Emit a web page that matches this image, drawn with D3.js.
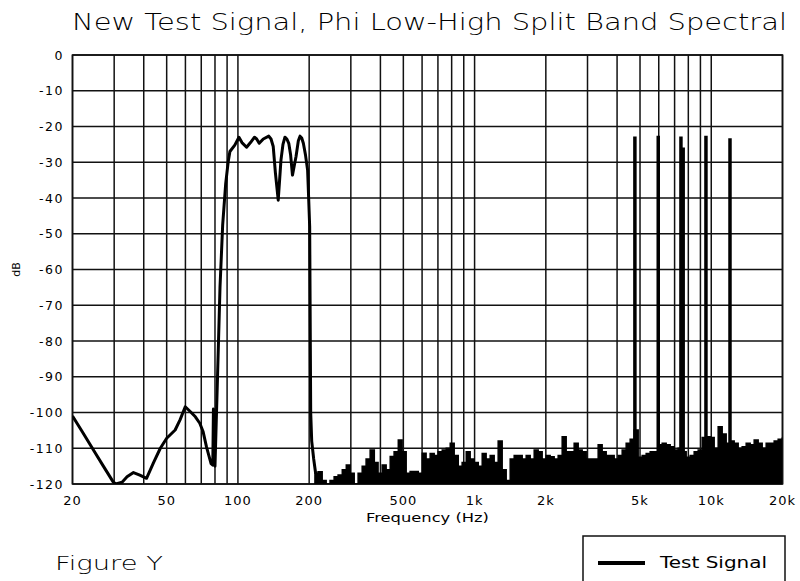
<!DOCTYPE html>
<html>
<head>
<meta charset="utf-8">
<script src="https://cdn.jsdelivr.net/npm/d3@7"></script>
<style>
  html, body { margin: 0; padding: 0; background: #fff; }
  svg { display: block; }
  text { font-family: "DejaVu Sans", "Liberation Sans", sans-serif; fill: #000; }
</style>
</head>
<body>
<svg id="chart" width="800" height="581"></svg>
<script>
// ---------------- DATA ----------------
const titleText = "New Test Signal, Phi Low-High Split Band Spectral";
const xLabel = "Frequency (Hz)";
const yLabel = "dB";
const figureLabel = "Figure Y";
const seriesName = "Test Signal";

const xTickValues = [20, 50, 100, 200, 500, 1000, 2000, 5000, 10000, 20000];
const xTickLabels = ["20", "50", "100", "200", "500", "1k", "2k", "5k", "10k", "20k"];
const xGridValues = [20, 30, 40, 50, 60, 70, 80, 90, 100, 200, 300, 400, 500, 600, 700, 800, 900,
                     1000, 2000, 3000, 4000, 5000, 6000, 7000, 8000, 9000, 10000, 20000];
const yTickValues = [0, -10, -20, -30, -40, -50, -60, -70, -80, -90, -100, -110, -120];

// low-frequency band (traced line)
const lowFreq = [20, 22, 25, 27, 29.7, 30.5, 32.4, 34, 36.2, 38.5, 41.1, 44, 47, 50, 54.3, 57, 59.9, 63,
  66.1, 69, 71.3, 73.7, 77, 78.3, 78.8, 79.3, 80, 82, 84, 86.2, 88.8, 91, 92.5, 97, 101, 104, 108.8,
  113, 117.5, 120, 123, 128, 135, 138, 141, 144, 148, 150, 152, 155, 158, 161, 164, 167, 170, 173,
  176, 180, 183, 186, 189, 193, 197, 199, 201, 203, 205, 209, 213];
const lowDb = [-101, -105.4, -111.4, -115, -119.4, -120, -119.5, -118, -116.8, -117.5, -118.4, -114, -110, -107.2, -104.9, -102, -98.4, -99.8,
  -101.2, -103, -105.4, -109.7, -114.3, -114.7, -99, -114, -115, -90, -65, -47.6, -35.9, -29.8, -27, -25.2, -23, -24.5, -25.8,
  -24.5, -23, -23.5, -24.7, -23.5, -22.7, -23.5, -25.6, -33, -40.6, -35, -29.4, -25, -23, -23.5, -24.7, -28, -33.6, -31,
  -28.4, -24, -22.7, -23.2, -24.7, -28, -32.2, -40, -48, -100, -108, -113, -117];

// noise floor envelope (step values)
const noiseFreq = [210, 218, 227, 236, 245, 255, 265, 276, 287, 298,
  310, 322, 335, 348, 362, 377, 391, 407, 423, 440,
  457, 476, 494, 514, 534, 556, 578, 601, 624, 649,
  675, 702, 730, 759, 789, 820, 853, 886, 922, 958,
  996, 1036, 1077, 1119, 1164, 1210, 1258, 1308, 1360, 1414,
  1470, 1528, 1589, 1652, 1718, 1786, 1857, 1930, 2007, 2086,
  2169, 2255, 2345, 2438, 2535, 2635, 2740, 2848, 2962, 3079,
  3201, 3328, 3460, 3598, 3740, 3889, 4043, 4204, 4370, 4544,
  4724, 4912, 5107, 5309, 5520, 5739, 5967, 6204, 6450, 6706,
  6972, 7248, 7536, 7835, 8146, 8469, 8805, 9155, 9518, 9896,
  10289, 10697, 11121, 11563, 12022, 12499, 12995, 13510, 14047, 14604,
  15184, 15786, 16413, 17064, 17741, 18445, 19177, 19938];
const noiseDb = [-117, -116.6, -119, -120, -119, -118, -117.5, -116, -114.7, -117,
  -120, -117, -115, -113, -110.5, -114, -117, -114.7, -116, -112.3,
  -111, -107.7, -111, -117, -116.5, -116.5, -117, -111.4, -113, -111.5,
  -112, -111, -110.5, -110, -108.6, -112, -115, -114, -111, -113,
  -114, -115, -111.5, -113, -112, -114, -108, -116, -119, -113,
  -112, -112, -113, -112, -113, -110.5, -111, -113, -112, -112.4,
  -113, -112, -106.8, -111, -111, -108.6, -110.5, -111, -113, -113,
  -113, -109, -111, -112, -112, -113, -112, -110.5, -108.6, -107.5,
  -104.9, -112.5, -112, -111.5, -111, -111, -109, -108.6, -109, -109.6,
  -110.5, -110, -111, -112.5, -112, -111, -110.5, -107, -106.8, -107,
  -110, -104, -106, -108.6, -108, -108.6, -110, -109.6, -108.6, -109,
  -107.7, -108.6, -110, -108.6, -108.6, -108, -107.5, -107];

// high band tones
const toneFreq = [4757, 5970, 7446, 7610, 9497, 12000];
const toneDb = [-22.8, -22.6, -22.8, -25.9, -22.6, -23.3];

// ---------------- CHART ----------------
const svg = d3.select("#chart");
const W = 800, H = 581;
const plot = { left: 72.5, right: 782.5, top: 55, bottom: 484 };

const x = d3.scaleLog().domain([20, 20000]).range([plot.left, plot.right]);
const y = d3.scaleLinear().domain([-120, 0]).range([plot.bottom, plot.top]);

svg.append("rect").attr("width", W).attr("height", H).attr("fill", "#fff");

// grid
const grid = svg.append("g").attr("stroke", "#111").attr("stroke-width", 1.5);
grid.selectAll("line.v").data(xGridValues).join("line")
  .attr("x1", d => x(d)).attr("x2", d => x(d))
  .attr("y1", plot.top).attr("y2", plot.bottom);
grid.selectAll("line.h").data(yTickValues).join("line")
  .attr("x1", plot.left).attr("x2", plot.right)
  .attr("y1", d => y(d)).attr("y2", d => y(d));
svg.append("rect")
  .attr("x", plot.left).attr("y", plot.top)
  .attr("width", plot.right - plot.left).attr("height", plot.bottom - plot.top)
  .attr("fill", "none").attr("stroke", "#111").attr("stroke-width", 1.6);

// clip
svg.append("clipPath").attr("id", "clip").append("rect")
  .attr("x", plot.left).attr("y", plot.top - 2)
  .attr("width", plot.right - plot.left).attr("height", plot.bottom - plot.top + 2);

const dataG = svg.append("g").attr("clip-path", "url(#clip)");

// noise area
const noise = noiseFreq.map((f, i) => ({ f, v: noiseDb[i] }));
const area = d3.area().x(d => x(d.f)).y0(y(-120)).y1(d => y(d.v)).curve(d3.curveStepAfter);
dataG.append("path").datum(noise).attr("d", area).attr("fill", "#000");
const nline = d3.line().x(d => x(d.f)).y(d => y(d.v)).curve(d3.curveStepAfter);
dataG.append("path").datum(noise).attr("d", nline)
  .attr("fill", "none").attr("stroke", "#000").attr("stroke-width", 1.5);

// low band line
const low = lowFreq.map((f, i) => ({ f, v: lowDb[i] }));
const line = d3.line().x(d => x(d.f)).y(d => y(d.v));
dataG.append("path").datum(low).attr("d", line)
  .attr("fill", "none").attr("stroke", "#000").attr("stroke-width", 3)
  .attr("stroke-linejoin", "round");

// tones
dataG.selectAll("line.tone").data(toneFreq).join("line")
  .attr("x1", d => x(d)).attr("x2", d => x(d))
  .attr("y1", y(-112)).attr("y2", (d, i) => y(toneDb[i]))
  .attr("stroke", "#000").attr("stroke-width", 3.5);

// y tick labels
svg.append("g").selectAll("text").data(yTickValues).join("text")
  .attr("x", 64).attr("y", d => y(d))
  .attr("text-anchor", "end").attr("dominant-baseline", "central")
  .attr("font-size", 12.5).attr("letter-spacing", 1.5)
  .text(d => d === 0 ? "0" : String(d));

// x tick labels
svg.append("g").selectAll("text").data(xTickValues).join("text")
  .attr("x", d => x(d)).attr("y", 500)
  .attr("text-anchor", "middle").attr("dominant-baseline", "central")
  .attr("font-size", 13).attr("letter-spacing", 1)
  .text((d, i) => xTickLabels[i]);

// axis titles
svg.append("text")
  .attr("x", (plot.left + plot.right) / 2).attr("y", 517)
  .attr("text-anchor", "middle").attr("dominant-baseline", "central")
  .attr("font-size", 13)
  .attr("textLength", 123).attr("lengthAdjust", "spacingAndGlyphs")
  .text(xLabel);
svg.append("text")
  .attr("transform", `translate(16,${y(-60)}) rotate(-90)`)
  .attr("text-anchor", "middle").attr("dominant-baseline", "central")
  .attr("font-size", 11).text(yLabel);

// title
svg.append("text")
  .attr("x", 72).attr("y", 30)
  .attr("font-size", 23).attr("font-weight", 200)
  .attr("textLength", 715).attr("lengthAdjust", "spacingAndGlyphs")
  .text(titleText);

// figure label
svg.append("text")
  .attr("x", 55).attr("y", 570)
  .attr("font-size", 19).attr("font-weight", 200)
  .attr("textLength", 108).attr("lengthAdjust", "spacingAndGlyphs")
  .text(figureLabel);

// legend
const lg = svg.append("g");
lg.append("rect").attr("x", 583).attr("y", 536).attr("width", 202).attr("height", 60)
  .attr("fill", "#fff").attr("stroke", "#111").attr("stroke-width", 1.5);
lg.append("line").attr("x1", 598).attr("x2", 645).attr("y1", 563).attr("y2", 563)
  .attr("stroke", "#000").attr("stroke-width", 4);
lg.append("text").attr("x", 660).attr("y", 563)
  .attr("dominant-baseline", "central").attr("font-size", 15)
  .attr("textLength", 107).attr("lengthAdjust", "spacingAndGlyphs")
  .text(seriesName);
</script>
</body>
</html>
